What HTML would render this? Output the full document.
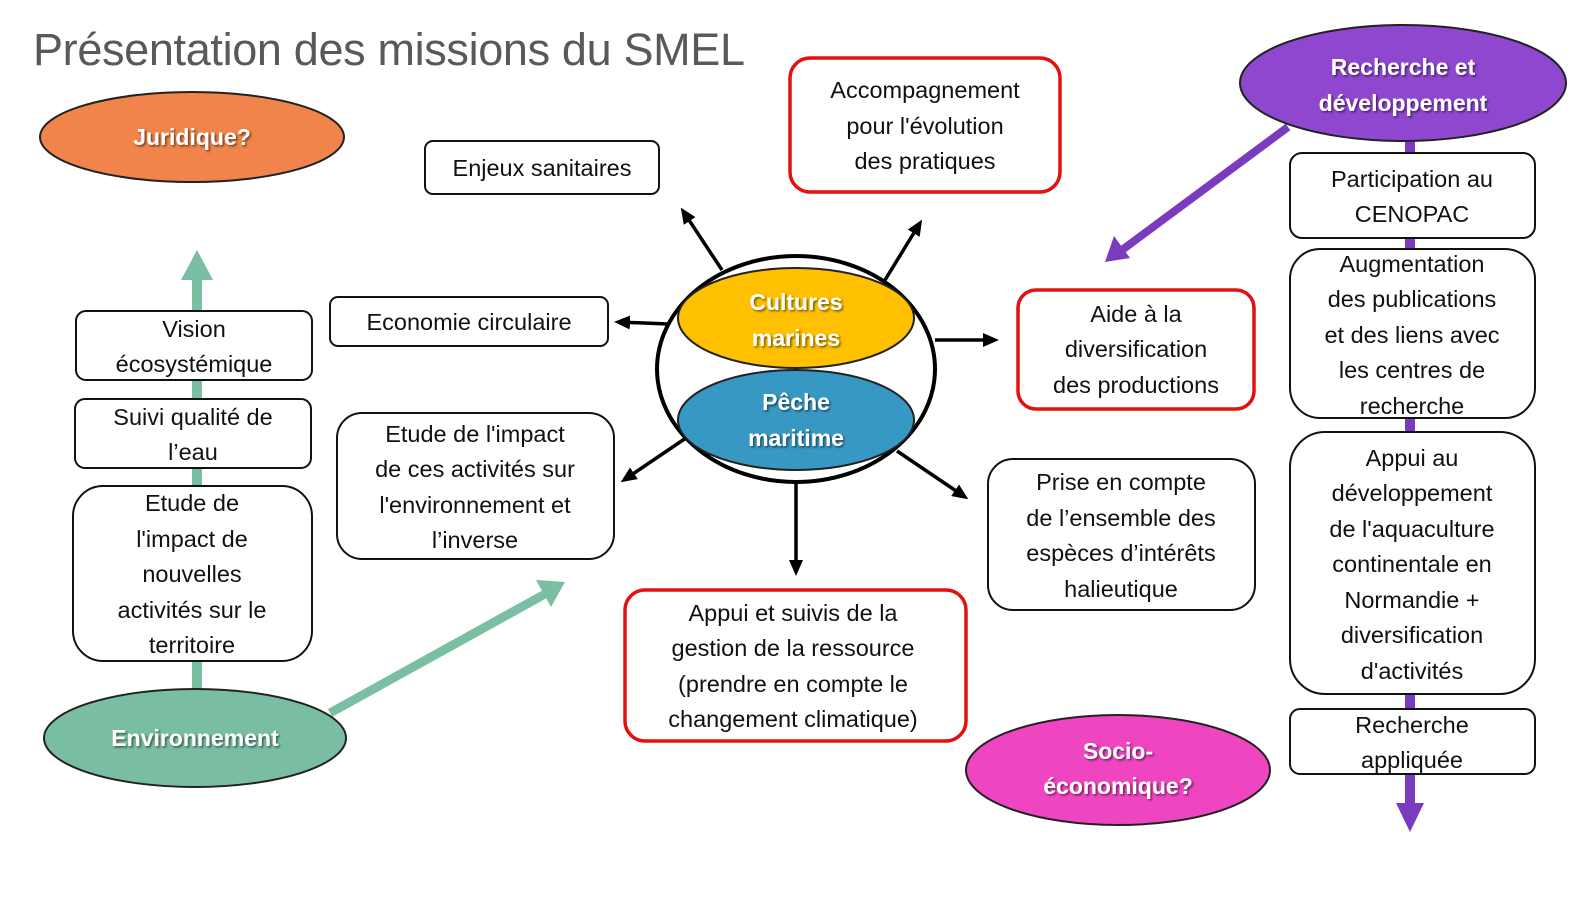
<!DOCTYPE html>
<html><head><meta charset="utf-8"><style>
html,body{margin:0;padding:0;background:#fff;}
svg{display:block;}
text{font-family:"Liberation Sans",sans-serif;}
.b{fill:#fff;stroke:#111;stroke-width:2;}
.r{fill:#fff;stroke:#e31010;stroke-width:3.5;}
.t{font-size:23.5px;fill:#111;text-anchor:middle;}
.w{font-size:23px;fill:#fff;font-weight:bold;text-anchor:middle;filter:url(#sh);}
</style></head><body>
<svg width="1587" height="910" viewBox="0 0 1587 910" xmlns="http://www.w3.org/2000/svg">
<defs>
<filter id="sh" x="-20%" y="-20%" width="140%" height="140%"><feDropShadow dx="1.5" dy="1.5" stdDeviation="1" flood-color="#000" flood-opacity="0.55"/></filter>
<marker id="ak" markerWidth="16" markerHeight="14" refX="12" refY="7" orient="auto" markerUnits="userSpaceOnUse" viewBox="0 0 16 14"><path d="M0,0 L16,7 L0,14 Z" fill="#000"/></marker>
</defs>
<text x="33" y="65" style="font-size:45px;fill:#595959" textLength="712">Présentation des missions du SMEL</text>

<!-- green -->
<line x1="197" y1="280" x2="197" y2="700" stroke="#7bbfa3" stroke-width="10"/>
<polygon points="181,280 213,280 197,250" fill="#7bbfa3"/>
<line x1="330" y1="713" x2="545" y2="594" stroke="#7bbfa3" stroke-width="9"/>
<polygon points="565,582 536,580 551,607" fill="#7bbfa3"/>
<!-- purple -->
<line x1="1410" y1="135" x2="1410" y2="805" stroke="#7a3bbf" stroke-width="10"/>
<polygon points="1396,803 1424,803 1410,832" fill="#7a3bbf"/>
<line x1="1288" y1="127" x2="1122" y2="250" stroke="#7a3bbf" stroke-width="8"/>
<polygon points="1105,262 1114,236 1130,258" fill="#7a3bbf"/>

<ellipse cx="192" cy="137" rx="152" ry="45" fill="#f0844a" stroke="#222" stroke-width="2"/>
<text class="w" x="192" y="145">Juridique?</text>

<rect class="b" x="76" y="311" width="236" height="69" rx="10"/>
<text class="t" x="194" y="337">Vision</text><text class="t" x="194" y="372">écosystémique</text>
<rect class="b" x="75" y="399" width="236" height="69" rx="10"/>
<text class="t" x="193" y="425">Suivi qualité de</text><text class="t" x="193" y="460">l’eau</text>
<rect class="b" x="73" y="486" width="239" height="175" rx="30"/>
<text class="t" x="192" y="511">Etude de</text><text class="t" x="192" y="547">l'impact de</text><text class="t" x="192" y="582">nouvelles</text><text class="t" x="192" y="618">activités sur le</text><text class="t" x="192" y="653">territoire</text>

<ellipse cx="195" cy="738" rx="151" ry="49" fill="#79bea3" stroke="#222" stroke-width="2"/>
<text class="w" x="195" y="746">Environnement</text>

<rect class="b" x="330" y="297" width="278" height="49" rx="8"/>
<text class="t" x="469" y="330">Economie circulaire</text>
<rect class="b" x="425" y="141" width="234" height="53" rx="8"/>
<text class="t" x="542" y="176">Enjeux sanitaires</text>
<rect class="b" x="337" y="413" width="277" height="146" rx="25"/>
<text class="t" x="475" y="442">Etude de l'impact</text><text class="t" x="475" y="477">de ces activités sur</text><text class="t" x="475" y="513">l'environnement et</text><text class="t" x="475" y="548">l’inverse</text>

<rect class="r" x="790" y="58" width="270" height="134" rx="20"/>
<text class="t" x="925" y="98">Accompagnement</text><text class="t" x="925" y="134">pour l'évolution</text><text class="t" x="925" y="169">des pratiques</text>

<!-- arrows -->
<g stroke="#000" stroke-width="3.5" marker-end="url(#ak)">
<line x1="722" y1="270" x2="683" y2="211"/>
<line x1="885" y1="280" x2="920" y2="223"/>
<line x1="668" y1="324" x2="618" y2="322"/>
<line x1="935" y1="340" x2="995" y2="340"/>
<line x1="686" y1="438" x2="624" y2="480"/>
<line x1="897" y1="451" x2="965" y2="497"/>
<line x1="796" y1="482" x2="796" y2="572"/>
</g>

<ellipse cx="796" cy="369" rx="139" ry="113" fill="#fff" stroke="#000" stroke-width="4"/>
<ellipse cx="796" cy="318" rx="118" ry="50" fill="#ffc000" stroke="#222" stroke-width="2"/>
<text class="w" x="796" y="310">Cultures</text><text class="w" x="796" y="346">marines</text>
<ellipse cx="796" cy="420" rx="118" ry="50" fill="#3898c4" stroke="#222" stroke-width="2"/>
<text class="w" x="796" y="410">Pêche</text><text class="w" x="796" y="446">maritime</text>

<rect class="r" x="1018" y="290" width="236" height="119" rx="18"/>
<text class="t" x="1136" y="322">Aide à la</text><text class="t" x="1136" y="357">diversification</text><text class="t" x="1136" y="393">des productions</text>
<rect class="b" x="988" y="459" width="267" height="151" rx="25"/>
<text class="t" x="1121" y="490">Prise en compte</text><text class="t" x="1121" y="526">de l’ensemble des</text><text class="t" x="1121" y="561">espèces d’intérêts</text><text class="t" x="1121" y="597">halieutique</text>
<rect class="r" x="625" y="590" width="341" height="151" rx="20"/>
<text class="t" x="793" y="621">Appui et suivis de la</text><text class="t" x="793" y="656">gestion de la ressource</text><text class="t" x="793" y="692">(prendre en compte le</text><text class="t" x="793" y="727">changement climatique)</text>

<ellipse cx="1118" cy="770" rx="152" ry="55" fill="#ef45c0" stroke="#222" stroke-width="2"/>
<text class="w" x="1118" y="759">Socio-</text><text class="w" x="1118" y="794">économique?</text>

<ellipse cx="1403" cy="83" rx="163" ry="58" fill="#8f47cf" stroke="#222" stroke-width="2"/>
<text class="w" x="1403" y="75">Recherche et</text><text class="w" x="1403" y="111">développement</text>

<rect class="b" x="1290" y="153" width="245" height="85" rx="12"/>
<text class="t" x="1412" y="187">Participation au</text><text class="t" x="1412" y="222">CENOPAC</text>
<rect class="b" x="1290" y="249" width="245" height="169" rx="30"/>
<text class="t" x="1412" y="272">Augmentation</text><text class="t" x="1412" y="307">des publications</text><text class="t" x="1412" y="343">et des liens avec</text><text class="t" x="1412" y="378">les centres de</text><text class="t" x="1412" y="414">recherche</text>
<rect class="b" x="1290" y="432" width="245" height="262" rx="35"/>
<text class="t" x="1412" y="466">Appui au</text><text class="t" x="1412" y="501">développement</text><text class="t" x="1412" y="537">de l'aquaculture</text><text class="t" x="1412" y="572">continentale en</text><text class="t" x="1412" y="608">Normandie +</text><text class="t" x="1412" y="643">diversification</text><text class="t" x="1412" y="679">d'activités</text>
<rect class="b" x="1290" y="709" width="245" height="65" rx="10"/>
<text class="t" x="1412" y="733">Recherche</text><text class="t" x="1412" y="768">appliquée</text>
</svg>
</body></html>
